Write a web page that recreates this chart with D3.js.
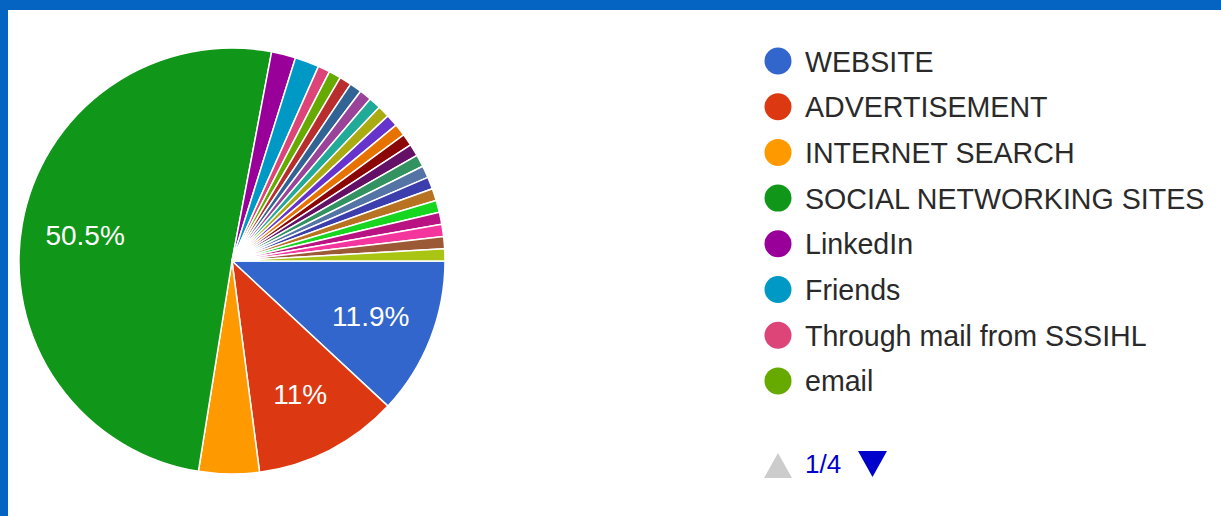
<!DOCTYPE html>
<html>
<head>
<meta charset="utf-8">
<script src="https://cdn.jsdelivr.net/npm/d3@7"></script>
<style>
  html, body { margin: 0; padding: 0; background: #ffffff; }
  svg { display: block; }
</style>
</head>
<body>
<svg id="chart" width="1221" height="516"></svg>
<script>
// Response sources (one entry per answer option) and their response counts
const categories = [
  "WEBSITE", "ADVERTISEMENT", "INTERNET SEARCH", "SOCIAL NETWORKING SITES",
  "LinkedIn", "Friends", "Through mail from SSSIHL", "email",
  "Source 9", "Source 10", "Source 11", "Source 12", "Source 13",
  "Source 14", "Source 15", "Source 16", "Source 17", "Source 18",
  "Source 19", "Source 20", "Source 21", "Source 22", "Source 23",
  "Source 24", "Source 25", "Source 26"
];
const counts = [
  13, 12, 5, 55,
  2, 2, 1, 1,
  1, 1, 1, 1, 1,
  1, 1, 1, 1, 1,
  1, 1, 1, 1, 1,
  1, 1, 1
];
// Default slice palette
const palette = [
  "#3366cc", "#dc3912", "#ff9900", "#109618", "#990099", "#0099c6",
  "#dd4477", "#66aa00", "#b82e2e", "#316395", "#994499", "#22aa99",
  "#aaaa11", "#6633cc", "#e67300", "#8b0707", "#651067", "#329262",
  "#5574a6", "#3b3eac", "#b77322", "#16d620", "#b91383", "#f4359e",
  "#9c5935", "#a9c413", "#2a778d", "#668d1c", "#bea413", "#0c5922"
];
const legendPageSize = 8;
const legendPage = 1;

const data = categories.map((c, i) => ({ name: c, value: counts[i] }));
const total = d3.sum(counts);

const svg = d3.select("#chart");
const W = 1221, H = 516;

// Frame edges
svg.append("rect").attr("x", 0).attr("y", 0).attr("width", W).attr("height", 10).attr("fill", "#0563c1");
svg.append("rect").attr("x", 0).attr("y", 0).attr("width", 8).attr("height", H).attr("fill", "#0563c1");

const font = "Arial, 'Liberation Sans', sans-serif";

// Pie
const cx = 232, cy = 261, radius = 213;
const color = d3.scaleOrdinal().domain(categories).range(palette);
const pie = d3.pie().value(d => d.value).sort(null)
  .startAngle(Math.PI / 2).endAngle(Math.PI / 2 + 2 * Math.PI);
const arcs = pie(data);
const arc = d3.arc().innerRadius(0).outerRadius(radius);
const labelArc = d3.arc().innerRadius(radius * 0.7).outerRadius(radius * 0.7);

const g = svg.append("g").attr("transform", `translate(${cx},${cy})`);
g.selectAll("path.slice").data(arcs).join("path")
  .attr("class", "slice")
  .attr("d", arc)
  .attr("fill", d => color(d.data.name))
  .attr("stroke", "#ffffff")
  .attr("stroke-width", 1.5)
  .attr("stroke-linejoin", "round");

const fmt = v => {
  const p = Math.round(v / total * 1000) / 10;
  return (Number.isInteger(p) ? p.toFixed(0) : p.toFixed(1)) + "%";
};
g.selectAll("text.pct").data(arcs.filter(d => d.data.value / total >= 0.08)).join("text")
  .attr("class", "pct")
  .attr("transform", d => `translate(${labelArc.centroid(d)})`)
  .attr("text-anchor", "middle")
  .attr("dy", "0.36em")
  .attr("fill", "#ffffff")
  .attr("font-family", font)
  .attr("font-size", 28)
  .text(d => fmt(d.data.value));

// Legend (paged)
const pages = Math.ceil(categories.length / legendPageSize);
const shown = data.slice((legendPage - 1) * legendPageSize, legendPage * legendPageSize);
const legendY = d3.scaleLinear().domain([0, 1]).range([61, 106.7]);
const lg = svg.append("g");
const items = lg.selectAll("g.item").data(shown).join("g")
  .attr("class", "item")
  .attr("transform", (d, i) => `translate(778,${legendY(i)})`);
items.append("circle").attr("r", 13.5).attr("fill", d => color(d.name));
items.append("text")
  .attr("x", 27).attr("y", 10.5)
  .attr("fill", "#2a2a2a")
  .attr("font-family", font)
  .attr("font-size", 28.6)
  .text(d => d.name);

// Pager
const pager = svg.append("g").attr("transform", "translate(778,464)");
pager.append("path").attr("d", "M-14,14 L0,-11 L14,14 Z").attr("fill", legendPage > 1 ? "#0000cc" : "#cccccc");
pager.append("text")
  .attr("x", 27).attr("y", 9)
  .attr("fill", "#0000cc")
  .attr("font-family", font)
  .attr("font-size", 26)
  .text(`${legendPage}/${pages}`);
pager.append("path").attr("d", "M80,-13 L109,-13 L94.5,13 Z").attr("fill", legendPage < pages ? "#0000cc" : "#cccccc");
</script>
</body>
</html>
